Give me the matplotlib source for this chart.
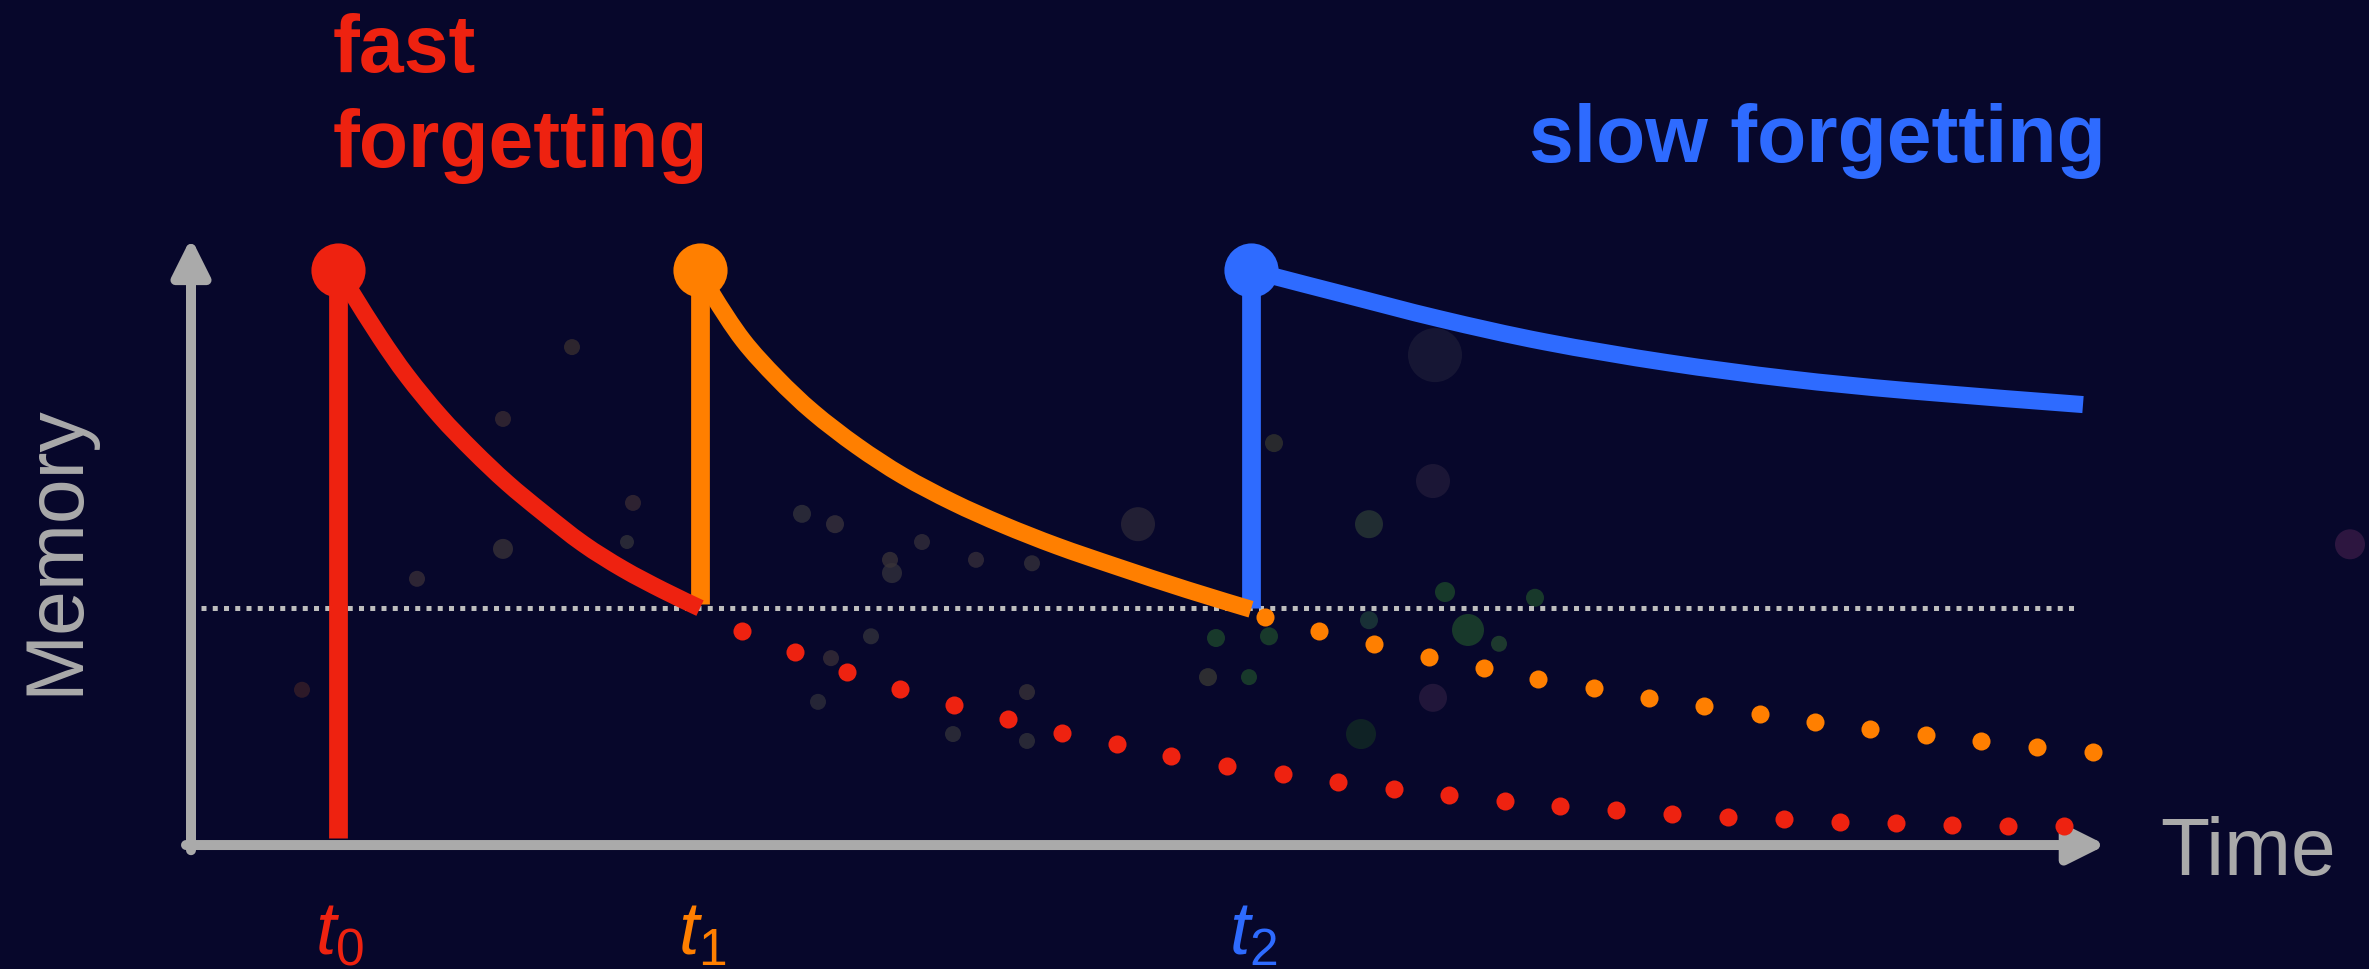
import matplotlib
matplotlib.use('Agg')
import matplotlib.pyplot as plt
from matplotlib.path import Path
from matplotlib.patches import PathPatch

# ==============================================================================
# Data (time in arbitrary units from the origin, memory in % of a fresh trace)
# ==============================================================================

event_times = [14.7, 50.9, 106.0]
event_labels = ['0', '1', '2']
threshold = 41.2

red_curve_t = [14.7, 16.1, 18.9, 21.6, 24.9, 28.2, 31.6, 35.2, 39.2, 43.2, 47.2, 50.9]
red_curve_m = [100.0, 96.0, 88.3, 81.6, 74.6, 68.6, 63.0, 57.8, 52.4, 48.0, 44.3, 41.2]

orange_curve_t = [50.9, 52.2, 55.2, 58.6, 62.2, 66.6, 71.2, 76.2, 81.2, 86.6, 92.6, 99.6, 106.0]
orange_curve_m = [100.0, 95.6, 87.8, 81.2, 75.3, 69.4, 64.2, 59.6, 55.7, 52.0, 48.4, 44.4, 41.0]

blue_curve_t = [106.0, 108.3, 115.2, 124.9, 135.4, 147.6, 159.7, 171.8, 189.2]
blue_curve_m = [100.0, 98.9, 95.8, 91.5, 87.5, 83.9, 81.1, 79.0, 76.6]

red_dots_t = [55.1, 60.4, 65.6, 70.9, 76.3, 81.7, 87.1, 92.6, 98.0, 103.6, 109.2,
              114.7, 120.3, 125.8, 131.4, 136.9, 142.5, 148.1, 153.7, 159.3,
              164.9, 170.5, 176.1, 181.7, 187.3]
red_dots_m = [37.2, 33.6, 30.1, 27.1, 24.3, 21.9, 19.5, 17.6, 15.5, 13.7, 12.3,
              11.0, 9.7, 8.7, 7.7, 6.8, 6.1, 5.4, 4.9, 4.5,
              4.0, 3.8, 3.5, 3.3, 3.3]

orange_dots_t = [107.4, 112.8, 118.3, 123.8, 129.3, 134.7, 140.3, 145.8, 151.3,
                 156.9, 162.4, 167.9, 173.5, 179.0, 184.6, 190.2]
orange_dots_m = [39.7, 37.2, 35.0, 32.7, 30.8, 28.9, 27.3, 25.6, 24.2,
                 22.8, 21.4, 20.2, 19.1, 18.1, 17.0, 16.2]

# faint background bokeh (time, memory, diameter in px, colour)
bokeh_t = [124.4, 117.8, 124.2, 127.7, 125.4, 134.4, 108.3, 107.8, 102.5, 105.8,
           101.7, 70.1, 73.1, 78.5, 84.1, 68.0, 64.0, 62.7, 83.6, 83.6, 76.2,
           130.8, 117.8, 124.2, 117.0, 31.2, 31.2, 22.6, 44.2, 43.6, 38.1,
           61.1, 64.4, 69.9, 94.7, 11.1, 215.9]
bokeh_m = [85.2, 55.8, 63.3, 37.4, 44.0, 43.0, 69.9, 36.3, 36.0, 29.2,
           29.2, 47.3, 52.7, 49.6, 49.0, 36.3, 32.5, 24.9, 26.6, 18.1, 19.3,
           35.0, 39.1, 25.6, 19.3, 51.5, 74.1, 46.3, 59.5, 52.7, 86.6,
           57.6, 55.8, 49.6, 55.8, 27.0, 52.3]
bokeh_d = [54, 28, 34, 32, 20, 18, 18, 18, 18, 16, 18, 20, 16, 16, 16, 16, 16, 16,
           16, 16, 16, 16, 18, 28, 30, 20, 16, 16, 16, 14, 16, 18, 18, 16, 34, 16, 30]
bokeh_c = ['#1c1c38', '#2b3a35', '#231c3a', '#1f4a2c', '#1d4a2a', '#1f4a2c',
           '#34352f', '#1f4a2c', '#1f4a2c', '#1f4a2c', '#3a3a34', '#34323c',
           '#35303a', '#38303a', '#36323a', '#34343c', '#3a3038', '#30303a',
           '#3a3438', '#34343a', '#34343a', '#254a30', '#1f3e3a', '#2a1c40',
           '#132c24', '#3a3438', '#3a2c32', '#3a3038', '#3a2c34', '#34343a',
           '#3a3030', '#34343c', '#3a343c', '#3a3438', '#2c2838', '#3a2028',
           '#3a1c48']

# ==============================================================================
# Styling
# ==============================================================================

BG = '#07072b'
GRAY = '#aaaaaa'
RED = '#ee2210'
ORANGE = '#ff7f00'
BLUE = '#2e6bff'
LW_CURVE = 12.3
LW_JUMP = 13.5

plt.rcParams['font.family'] = ['Liberation Sans', 'DejaVu Sans']
plt.rcParams['mathtext.fontset'] = 'custom'
plt.rcParams['mathtext.rm'] = 'Liberation Sans'
plt.rcParams['mathtext.it'] = 'Liberation Sans:italic'


def smooth_curve(ts, ms):
    """Catmull-Rom style Bezier path through the read points."""
    pts = list(zip(ts, ms))
    verts = [pts[0]]
    codes = [Path.MOVETO]
    for i in range(len(pts) - 1):
        p0 = pts[i - 1] if i > 0 else pts[i]
        p1 = pts[i]
        p2 = pts[i + 1]
        p3 = pts[i + 2] if i + 2 < len(pts) else pts[i + 1]
        c1 = (p1[0] + (p2[0] - p0[0]) / 6, p1[1] + (p2[1] - p0[1]) / 6)
        c2 = (p2[0] - (p3[0] - p1[0]) / 6, p2[1] - (p3[1] - p1[1]) / 6)
        verts += [c1, c2, p2]
        codes += [Path.CURVE4] * 3
    return Path(verts, codes)


fig = plt.figure(figsize=(23.69, 9.69), dpi=100, facecolor=BG)
ax = fig.add_axes([0, 0, 1, 1])
ax.set_facecolor(BG)
ax.set_xlim(-19.1, 217.8)
ax.set_ylim(-21.56, 146.96)
ax.axis('off')

# background bokeh
ax.scatter(bokeh_t, bokeh_m, s=[(d * 0.72) ** 2 for d in bokeh_d],
           c=bokeh_c, alpha=0.75, edgecolors='none', zorder=0)

# threshold line
ax.plot([1.0, 188.8], [threshold, threshold], color='#bdbdbd', lw=3.6,
        linestyle=(0, (1.0, 1.25)), solid_capstyle='butt', zorder=1)

# axes with arrow heads
arrow = dict(arrowstyle='-|>,head_length=0.4,head_width=0.2', lw=7.2,
             color=GRAY, mutation_scale=56, shrinkA=0, shrinkB=0)
ax.annotate('', xy=(0, 105.6), xytext=(0, -0.9), arrowprops=arrow, zorder=2)
ax.annotate('', xy=(191.5, 0), xytext=(-0.5, 0), arrowprops=arrow, zorder=2)

# learning events (vertical jumps)
ax.plot([event_times[0], event_times[0]], [1.2, 100], color=RED, lw=LW_JUMP,
        solid_capstyle='butt', zorder=3)
ax.plot([event_times[1], event_times[1]], [threshold + 0.8, 100], color=ORANGE,
        lw=LW_JUMP, solid_capstyle='butt', zorder=3)
ax.plot([event_times[2], event_times[2]], [threshold, 100], color=BLUE,
        lw=LW_JUMP, solid_capstyle='butt', zorder=3)

# forgetting curves
for ts, ms, c in [(red_curve_t, red_curve_m, RED),
                  (orange_curve_t, orange_curve_m, ORANGE),
                  (blue_curve_t, blue_curve_m, BLUE)]:
    ax.add_patch(PathPatch(smooth_curve(ts, ms), fill=False, edgecolor=c,
                           lw=LW_CURVE, capstyle='butt', joinstyle='round',
                           zorder=4))

# continuation without review
ax.plot(red_dots_t, red_dots_m, 'o', color=RED, ms=13, mec='none', zorder=4)
ax.plot(orange_dots_t, orange_dots_m, 'o', color=ORANGE, ms=13, mec='none', zorder=4)

# big dots at each event
for t, c in zip(event_times, [RED, ORANGE, BLUE]):
    ax.plot([t], [100], 'o', color=c, ms=39, mec='none', zorder=5)

# event labels t0, t1, t2
for t, lab, c in zip(event_times, event_labels, [RED, ORANGE, BLUE]):
    ax.text(t + 0.2, -19.0, r'$\mathit{t}_{\mathrm{' + lab + '}}$', color=c,
            fontsize=53, ha='center', va='baseline')

# annotations
ax.text(14.2, 134.4, 'fast', color=RED, fontsize=58, fontweight='bold',
        ha='left', va='baseline')
ax.text(14.2, 117.9, 'forgetting', color=RED, fontsize=58, fontweight='bold',
        ha='left', va='baseline')
ax.text(133.8, 118.8, 'slow forgetting', color=BLUE, fontsize=58,
        fontweight='bold', ha='left', va='baseline')

ax.text(196.9, -5.2, 'Time', color=GRAY, fontsize=58, ha='left', va='baseline')
ax.text(-11.4, 51.3, 'Memory', color=GRAY, fontsize=58, rotation=90,
        rotation_mode='anchor', ha='center', va='baseline')

fig.savefig('out.png', dpi=100, facecolor=BG)
plt.close(fig)
